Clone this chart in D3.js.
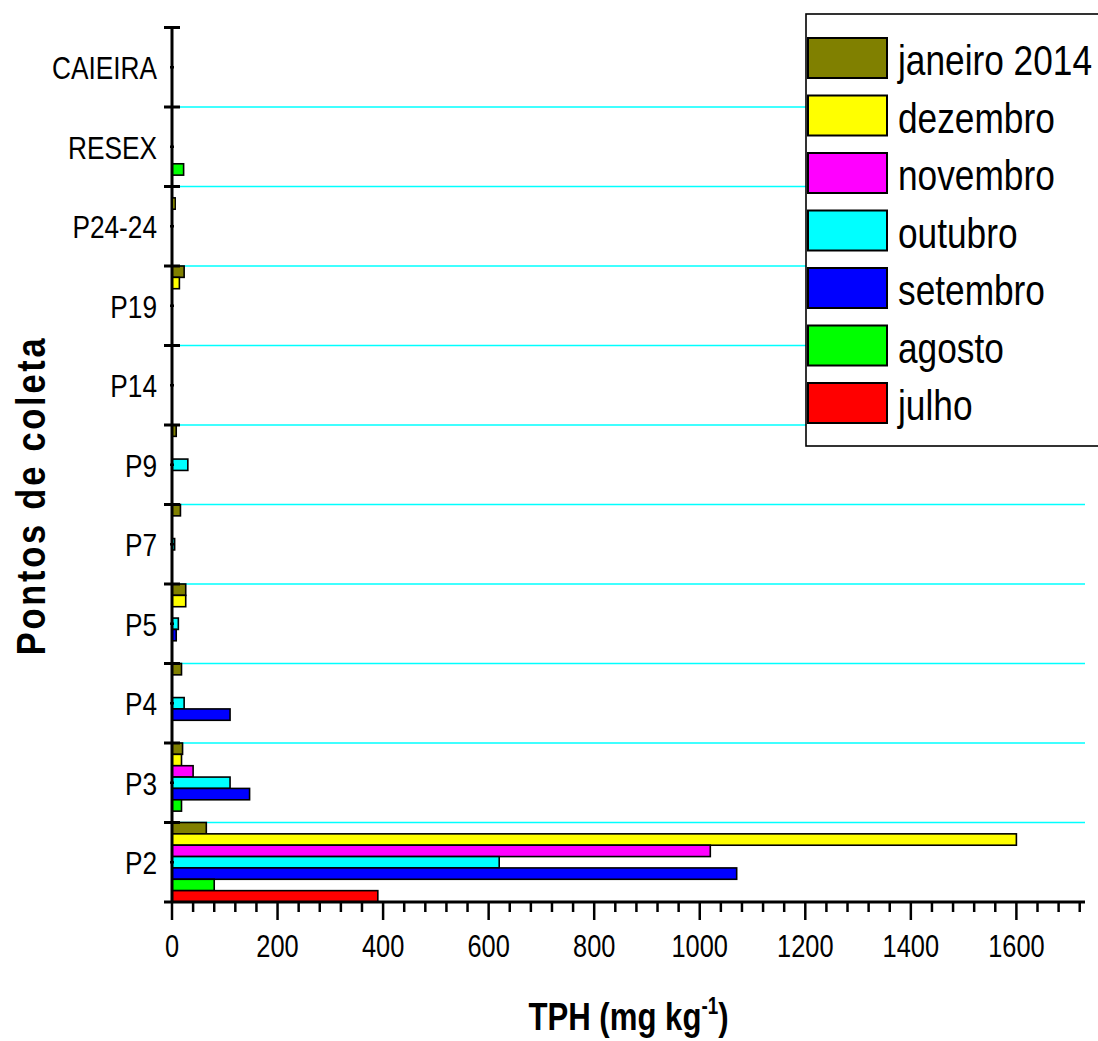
<!DOCTYPE html>
<html>
<head>
<meta charset="utf-8">
<script src="https://cdn.jsdelivr.net/npm/d3@7"></script>
<style>
  html, body { margin: 0; padding: 0; background: #fff; }
  svg { display: block; }
  text { font-family: "Liberation Sans", Arial, sans-serif; }
</style>
</head>
<body>
<svg id="chart" width="1098" height="1041"></svg>
<script>
// Sampling points, bottom to top
const categories = ["P2", "P3", "P4", "P5", "P7", "P9", "P14", "P19", "P24-24", "RESEX", "CAIEIRA"];

// Series in drawing order within each group (top bar first)
const seriesNames = ["janeiro 2014", "dezembro", "novembro", "outubro", "setembro", "agosto", "julho"];
const seriesColors = ["#808000", "#ffff00", "#ff00ff", "#00ffff", "#0000ff", "#00ff00", "#ff0000"];

// TPH (mg kg-1) per sampling point; null = no bar
const janeiro  = [65, 20, 18, 26, 16, 8, null, 23, null, null, null];
const dezembro = [1600, 18, null, 26, null, null, null, 14, 6, null, null];
const novembro = [1020, 40, null, null, null, null, null, null, null, null, null];
const outubro  = [620, 110, 23, 12, 5, 30, null, null, null, null, null];
const setembro = [1070, 147, 110, 8, null, null, null, null, null, null, null];
const agosto   = [80, 18, null, null, null, null, null, null, null, 22, null];
const julho    = [390, null, null, null, null, null, null, null, null, null, null];

const seriesValues = [janeiro, dezembro, novembro, outubro, setembro, agosto, julho];

const xMajorTicks = [0, 200, 400, 600, 800, 1000, 1200, 1400, 1600];
const xMinorStep = 40;
const xMax = 1730;

const svg = d3.select("#chart");

const plotLeft = 172, plotRight = 1085, plotTop = 27.5, plotBottom = 902;
const NARROW = 0.82; // horizontal squeeze for the condensed typeface look

const x = d3.scaleLinear().domain([0, xMax]).range([plotLeft, plotRight]);
const y = d3.scaleBand().domain(categories).range([plotBottom, plotTop]).paddingInner(0).paddingOuter(0);
const ySub = d3.scaleBand().domain(seriesNames).range([0, y.bandwidth()]).padding(0);

// condensed text placed at (tx, ty)
function narrowText(sel, tx, ty) {
  return sel.attr("transform", (d, i) => `translate(${tx(d, i)},${ty(d, i)}) scale(${NARROW},1)`);
}

// Grid lines at group boundaries
const boundaries = categories.slice(0, -1).map(c => y(c));
svg.append("g")
  .selectAll("line")
  .data(boundaries)
  .join("line")
  .attr("x1", plotLeft).attr("x2", plotRight)
  .attr("y1", d => d).attr("y2", d => d)
  .attr("stroke", "#00ffff")
  .attr("stroke-width", 1.6);

// Bars
const barData = [];
categories.forEach((c, ci) => {
  seriesNames.forEach((s, si) => {
    const v = seriesValues[si][ci];
    if (v != null) barData.push({ cat: c, series: s, value: v, color: seriesColors[si] });
  });
});

svg.append("g")
  .selectAll("rect")
  .data(barData)
  .join("rect")
  .attr("x", x(0))
  .attr("y", d => y(d.cat) + ySub(d.series))
  .attr("width", d => x(d.value) - x(0))
  .attr("height", ySub.bandwidth())
  .attr("fill", d => d.color)
  .attr("stroke", "#000")
  .attr("stroke-width", 1.6);

// X axis
const xAxisG = svg.append("g");
xAxisG.append("line")
  .attr("x1", 164).attr("x2", plotRight)
  .attr("y1", plotBottom).attr("y2", plotBottom)
  .attr("stroke", "#000").attr("stroke-width", 3);

const minorTicks = d3.range(0, xMax + 1, xMinorStep).filter(v => v % 200 !== 0);
xAxisG.selectAll("line.minor")
  .data(minorTicks)
  .join("line")
  .attr("class", "minor")
  .attr("x1", d => x(d)).attr("x2", d => x(d))
  .attr("y1", plotBottom).attr("y2", plotBottom + 10)
  .attr("stroke", "#000").attr("stroke-width", 2.5);

xAxisG.selectAll("line.major")
  .data(xMajorTicks)
  .join("line")
  .attr("class", "major")
  .attr("x1", d => x(d)).attr("x2", d => x(d))
  .attr("y1", plotBottom).attr("y2", plotBottom + 18)
  .attr("stroke", "#000").attr("stroke-width", 2.5);

xAxisG.selectAll("text")
  .data(xMajorTicks)
  .join("text")
  .call(narrowText, d => x(d), () => 957)
  .attr("text-anchor", "middle")
  .attr("font-size", 31)
  .text(d => d);

// Y axis
const yAxisG = svg.append("g");
yAxisG.append("line")
  .attr("x1", plotLeft).attr("x2", plotLeft)
  .attr("y1", plotTop).attr("y2", plotBottom)
  .attr("stroke", "#000").attr("stroke-width", 3);

const yMajor = categories.map(c => y(c)).concat([plotTop]);
yAxisG.selectAll("line.major")
  .data(yMajor)
  .join("line")
  .attr("class", "major")
  .attr("x1", 164).attr("x2", 180)
  .attr("y1", d => d).attr("y2", d => d)
  .attr("stroke", "#000").attr("stroke-width", 3);

yAxisG.selectAll("line.minor")
  .data(categories)
  .join("line")
  .attr("class", "minor")
  .attr("x1", plotLeft - 2).attr("x2", plotLeft + 2)
  .attr("y1", d => y(d) + y.bandwidth() / 2).attr("y2", d => y(d) + y.bandwidth() / 2)
  .attr("stroke", "#000").attr("stroke-width", 2.5);

yAxisG.selectAll("text")
  .data(categories)
  .join("text")
  .call(narrowText, () => 157, d => y(d) + y.bandwidth() / 2 + 12)
  .attr("text-anchor", "end")
  .attr("font-size", 32)
  .text(d => d);

// Axis titles
const xTitle = svg.append("text")
  .attr("transform", `translate(${(plotLeft + plotRight) / 2},1030) scale(${NARROW},1)`)
  .attr("text-anchor", "middle")
  .attr("font-size", 38)
  .attr("font-weight", "bold");
xTitle.append("tspan").text("TPH (mg kg");
xTitle.append("tspan").attr("font-size", 23).attr("dy", -16).text("-1");
xTitle.append("tspan").attr("dy", 16).text(")");

const yTitleScale = 0.86;
svg.append("text")
  .attr("transform", `translate(45, ${(plotTop + plotBottom) / 2 + 32}) rotate(-90) scale(${yTitleScale},1)`)
  .attr("text-anchor", "middle")
  .attr("font-weight", "bold")
  .attr("font-size", 40)
  .attr("textLength", 317 / yTitleScale)
  .attr("lengthAdjust", "spacing")
  .text("Pontos de coleta");

// Legend
const legend = svg.append("g");
legend.append("rect")
  .attr("x", 806).attr("y", 14)
  .attr("width", 300).attr("height", 432)
  .attr("fill", "#fff")
  .attr("stroke", "#000").attr("stroke-width", 1.6);

const legendItems = legend.selectAll("g.item")
  .data(seriesNames)
  .join("g")
  .attr("class", "item")
  .attr("transform", (d, i) => `translate(0, ${38 + i * 57.5})`);

legendItems.append("rect")
  .attr("x", 808).attr("y", 0)
  .attr("width", 79).attr("height", 40)
  .attr("fill", (d, i) => seriesColors[i])
  .attr("stroke", "#000").attr("stroke-width", 2);

legendItems.append("text")
  .call(narrowText, () => 898, () => 37)
  .attr("font-size", 43)
  .text(d => d);
</script>
</body>
</html>
